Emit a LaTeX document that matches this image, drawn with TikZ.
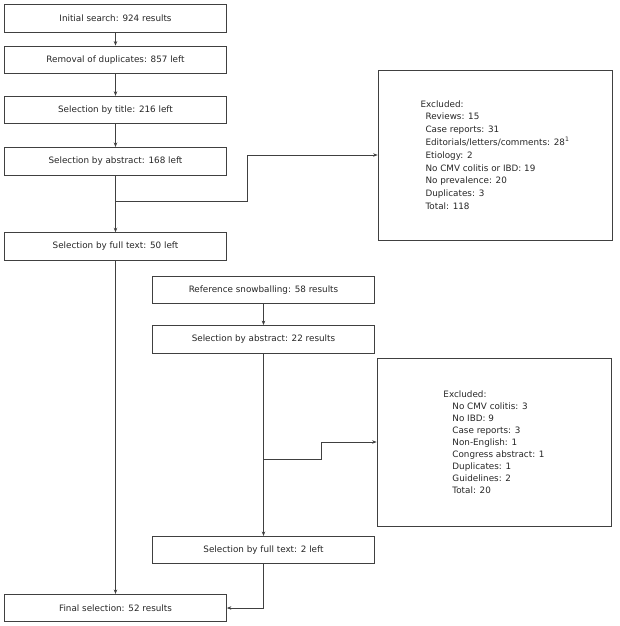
\documentclass[tikz,border=0pt]{standalone}
\usepackage{fontspec}
\setmainfont{DejaVu Sans}
\usetikzlibrary{arrows.meta,positioning}

\begin{document}
\begin{tikzpicture}[x=1pt,y=-1pt,
    box/.style={draw=black!75,line width=0.7pt,minimum width=222pt,minimum height=27.5pt,inner sep=0pt,
        font=\fontsize{8.8}{10}\selectfont,text=black!85},
    excl/.style={draw=black!75,line width=0.7pt,minimum width=234pt,inner sep=0pt,align=left,
        font=\fontsize{8.8}{12.8}\selectfont,text=black!85},
    arr/.style={draw=black!75,line width=0.7pt,-{Stealth[length=4.5pt,width=3.5pt]}}]
   \useasboundingbox (0,0) rectangle (619,626);
   % main search
   \node[box] (s_0) at (115.5,18.5) {Initial search: 924 results};
   \node[box] (s_1) [below=13pt of s_0] {Removal of duplicates: 857 left};
   \node[box] (s_2) [below=22pt of s_1] {Selection by title: 216 left};
   \node[box] (s_3) [below=23pt of s_2] {Selection by abstract: 168 left};
   \node[box] (s_4) [below=57pt of s_3] {Selection by full text: 50 left};
   \node[box] (s_5) at (115.5,608) {Final selection: 52 results};
   \node[excl,minimum height=170pt] (x_0) at (495,155) {Excluded:\\
      \hspace*{5pt}Reviews: 15\\
      \hspace*{5pt}Case reports: 31\\
      \hspace*{5pt}Editorials/letters/comments: 28\textsuperscript{1}\\
      \hspace*{5pt}Etiology: 2\\
      \hspace*{5pt}No CMV colitis or IBD: 19\\
      \hspace*{5pt}No prevalence: 20\\
      \hspace*{5pt}Duplicates: 3\\
      \hspace*{5pt}Total: 118};
   % snowballing
   \node[box] (r_0) at (263.5,290) {Reference snowballing: 58 results};
   \node[box] (r_1) [below=21pt of r_0] {Selection by abstract: 22 results};
   \node[box] (r_2) at (263.5,550) {Selection by full text: 2 left};
   \node[excl,minimum height=168pt,font=\fontsize{8.8}{12}\selectfont] (x_1) at (494,442) {Excluded:\\
      \hspace*{9pt}No CMV colitis: 3\\
      \hspace*{9pt}No IBD: 9\\
      \hspace*{9pt}Case reports: 3\\
      \hspace*{9pt}Non-English: 1\\
      \hspace*{9pt}Congress abstract: 1\\
      \hspace*{9pt}Duplicates: 1\\
      \hspace*{9pt}Guidelines: 2\\
      \hspace*{9pt}Total: 20};
   \coordinate (b_0) at (115.5,201);
   \coordinate (b_1) at (263.5,459);
    \path[arr]
    (s_0) edge (s_1)
    (s_1) edge (s_2)
    (s_2) edge (s_3)
    (s_3) edge (s_4)
    (s_4) edge (s_5)
    (r_0) edge (r_1)
    (r_1) edge (r_2);
    \draw[arr] (b_0) -- ++(131.5,0) |- (x_0.west);
    \draw[arr] (b_1) -- ++(57.5,0) |- (x_1.west);
    \draw[arr] (r_2.south) |- (s_5.east);
\end{tikzpicture}
\end{document}
